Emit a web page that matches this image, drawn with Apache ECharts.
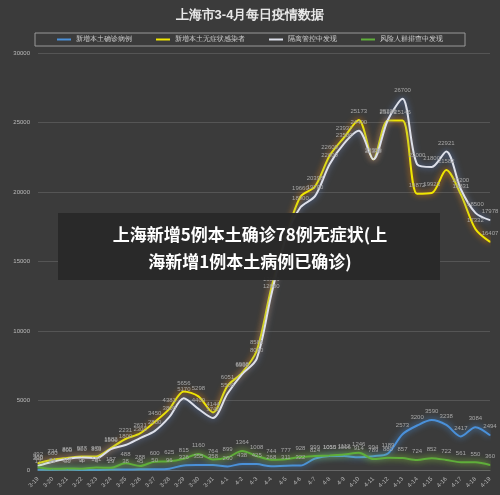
<!DOCTYPE html><html><head><meta charset="utf-8"><script src="https://cdn.jsdelivr.net/npm/echarts@6/dist/echarts.min.js"></script></head><body style="margin:0;background:#3b3b3b"><div id="c" style="width:500px;height:495px"></div><script>
const dates=['3-19','3-20','3-21','3-22','3-23','3-24','3-25','3-26','3-27','3-28','3-29','3-30','3-31','4-1','4-2','4-3','4-4','4-5','4-6','4-7','4-8','4-9','4-10','4-11','4-12','4-13','4-14','4-15','4-16','4-17','4-18','4-19'];
const confirmed=[17,24,31,4,4,29,38,45,50,96,326,355,358,260,438,425,268,311,322,824,1015,1006,914,994,1189,2573,3200,3590,3238,2417,3084,2494];
const asym=[492,734,865,977,979,1582,2231,2631,3450,4381,5656,5298,4144,6051,6998,8581,13086,16766,19660,20398,22609,23937,25173,22348,25141,25146,19872,19923,21582,19831,17332,16407];
const isolated=[300,600,800,900,850,1500,1800,2300,2800,3800,5170,4400,3740,5500,6900,8000,12600,16700,18900,19700,22000,23500,24400,22350,25200,26700,22000,21800,22921,20200,18500,17978];
const risk=[200,84,107,96,181,157,488,288,600,625,815,1160,764,899,1364,1008,744,777,928,999,1050,1112,1246,789,880,857,724,852,722,561,550,360];
const names=['新增本土确诊病例','新增本土无症状感染者','隔离管控中发现','风险人群排查中发现'];
const colors=['#4a90d9','#f0e600','#dde0ea','#5fae3a'];
const glows=['#4a90d9','#ff8a00','#6080c0','#8fdc3a'];
const data=[confirmed,asym,isolated,risk];
const ch=echarts.init(document.getElementById('c'));
ch.setOption({backgroundColor:'#3b3b3b',
title:{text:'上海市3-4月每日疫情数据',left:'center',top:4,textStyle:{color:'#e8e8e8',fontSize:13,fontWeight:'bold'}},
legend:{top:33,left:'center',itemWidth:14,itemHeight:2,borderColor:'#999',borderWidth:1,padding:[3,22],itemGap:24,icon:'rect',textStyle:{color:'#cfcfcf',fontSize:7}},
grid:{left:38,right:10,top:53,bottom:25},
xAxis:{type:'category',data:dates,boundaryGap:false,axisLine:{lineStyle:{color:'#666'}},axisTick:{show:false},axisLabel:{color:'#bbb',fontSize:6,rotate:45,interval:0}},
yAxis:{type:'value',min:0,max:30000,interval:5000,axisLabel:{color:'#bbb',fontSize:6,formatter:v=>String(v)},splitLine:{lineStyle:{color:'#555'}}},
series:data.map((d,i)=>({name:names[i],type:'line',data:d,smooth:0.3,symbol:'circle',symbolSize:1,showSymbol:true,lineStyle:{color:colors[i],width:2,shadowColor:glows[i],shadowBlur:6},itemStyle:{color:colors[i]},
label:{show:true,color:'#a8a8a8',fontSize:6,position:'top'},labelLayout:{hideOverlap:false}})),
graphic:[{type:'rect',z:100,left:58,top:213,shape:{width:382,height:67},style:{fill:'rgba(40,40,40,0.97)'}},
{type:'text',z:101,x:250,y:221,style:{text:'上海新增5例本土确诊78例无症状(上\n海新增1例本土病例已确诊)',fill:'#fff',font:'bold 17px "Noto Sans CJK SC"',textAlign:'center',lineHeight:27}}]});
</script></body></html>
